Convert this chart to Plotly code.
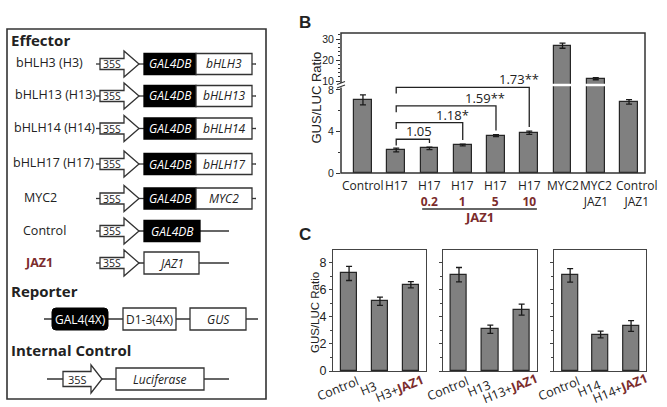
import plotly.graph_objects as go

W, H = 667, 407
RED = "#7b2c2c"
INK = "#222222"
EDGE = "#333333"
GREY = "#808080"

# ---------------- data: panel B ----------------
b_names = ["Control", "H17", "H17", "H17", "H17", "H17", "MYC2", "MYC2", "Control"]
b_second = ["", "", "0.2", "1", "5", "10", "", "JAZ1", "JAZ1"]
b_second_dose = [False, False, True, True, True, True, False, False, False]
b_values = [7.05, 2.22, 2.37, 2.70, 3.60, 3.88, 26.8, 11.1, 6.86]
b_errors = [0.48, 0.18, 0.12, 0.08, 0.10, 0.15, 1.2, 0.5, 0.22]
b_fold = ["1.05", "1.18*", "1.59**", "1.73**"]
b_fold_target = [2, 3, 4, 5]
b_fold_ref = 1
b_group_label = "JAZ1"

# ---------------- data: panel C ----------------
c_effectors = ["H3", "H13", "H14"]
c_values = [[7.20, 5.15, 6.37], [7.11, 3.08, 4.53], [7.06, 2.69, 3.32]]
c_errors = [[0.52, 0.30, 0.23], [0.53, 0.30, 0.40], [0.50, 0.25, 0.40]]


def px(x):
    return x / W


def py(y):
    return 1 - y / H


shapes = []
annotations = []


def add_line(x0, y0, x1, y1, color=EDGE, width=1.3):
    shapes.append(dict(type="line", xref="paper", yref="paper", x0=px(x0), y0=py(y0),
                       x1=px(x1), y1=py(y1), line=dict(color=color, width=width)))


def add_rect(x0, y0, x1, y1, fill="white", color=EDGE, width=1.3):
    shapes.append(dict(type="rect", xref="paper", yref="paper", x0=px(x0), y0=py(y1),
                       x1=px(x1), y1=py(y0), fillcolor=fill, line=dict(color=color, width=width)))


def add_poly(points, fill="white", color=EDGE, width=1.3):
    p = "M " + " L ".join(f"{px(a):.5f},{py(b):.5f}" for a, b in points) + " Z"
    shapes.append(dict(type="path", xref="paper", yref="paper", path=p, fillcolor=fill,
                       line=dict(color=color, width=width)))


def add_text(x, y, text, size=12.5, color=INK, xanchor="left", family="Open Sans", angle=0):
    annotations.append(dict(x=px(x), y=py(y), xref="paper", yref="paper", text=text,
                            showarrow=False, xanchor=xanchor, yanchor="middle",
                            textangle=angle, borderpad=0,
                            font=dict(family=family, size=size, color=color)))


def promoter(x0, y, body_w, head_w, bh, hh, fs=10.5):
    pts = [(x0, y - bh), (x0 + body_w, y - bh), (x0 + body_w, y - hh), (x0 + body_w + head_w, y),
           (x0 + body_w, y + hh), (x0 + body_w, y + bh), (x0, y + bh)]
    add_poly(pts)
    add_text(x0 + body_w / 2, y, "35S", size=fs, xanchor="center")
    return x0 + body_w + head_w


# ================= Panel A (schematic) =================
add_rect(7, 29, 266, 399, fill="rgba(0,0,0,0)", color=EDGE, width=1.6)
add_text(10, 40, "<b>Effector</b>", size=15)
add_text(10, 291, "<b>Reporter</b>", size=15)
add_text(10, 350, "<b>Internal Control</b>", size=15)

eff_labels = ["bHLH3 (H3)", "bHLH13 (H13)", "bHLH14 (H14)", "bHLH17 (H17)", "MYC2"]
eff_genes = ["bHLH3", "bHLH13", "bHLH14", "bHLH17", "MYC2"]
eff_label_x = [15, 14, 13, 12, 23]
row_y = [64, 96, 128.5, 164, 198.5, 231, 263]

for lab, gene, lx, y in zip(eff_labels, eff_genes, eff_label_x, row_y[:5]):
    add_text(lx, y - 1.5, lab)
    add_line(96, y, 100, y)
    tip = promoter(100, y, 24, 15, 5.5, 13)
    add_line(tip, y, 144, y)
    add_rect(144, y - 10.5, 196, y + 10.5, fill="black", color="black")
    add_text(170, y, "<i>GAL4DB</i>", size=12, color="white", xanchor="center")
    add_rect(196, y - 10.5, 252, y + 10.5)
    add_text(224, y, f"<i>{gene}</i>", size=12, xanchor="center")
    add_line(252, y, 256, y)

# Control row
y = row_y[5]
add_text(22, y - 1, "Control")
add_line(96, y, 100, y)
tip = promoter(100, y, 24, 15, 5.5, 13)
add_line(tip, y, 229, y)
add_rect(144, y - 10.5, 200, y + 10.5, fill="black", color="black")
add_text(172, y, "<i>GAL4DB</i>", size=12, color="white", xanchor="center")

# JAZ1 row
y = row_y[6]
add_text(24, y - 1, "<b>JAZ1</b>", color=RED)
add_line(96, y, 100, y)
tip = promoter(100, y, 24, 15, 5.5, 13)
add_line(tip, y, 229, y)
add_rect(144, y - 11, 199, y + 11)
add_text(171.5, y, "<i>JAZ1</i>", size=12, xanchor="center")

# Reporter row
y = 319
add_line(44, y, 258, y)
r = 4
x0, x1, y0, y1 = 52, 108, y - 11, y + 11
rp = (f"M {px(x0 + r)},{py(y0)} L {px(x1 - r)},{py(y0)} Q {px(x1)},{py(y0)} {px(x1)},{py(y0 + r)} "
      f"L {px(x1)},{py(y1 - r)} Q {px(x1)},{py(y1)} {px(x1 - r)},{py(y1)} "
      f"L {px(x0 + r)},{py(y1)} Q {px(x0)},{py(y1)} {px(x0)},{py(y1 - r)} "
      f"L {px(x0)},{py(y0 + r)} Q {px(x0)},{py(y0)} {px(x0 + r)},{py(y0)} Z")
shapes.append(dict(type="path", xref="paper", yref="paper", path=rp, fillcolor="black",
                   line=dict(color="black", width=1)))
add_text(80, y, "GAL4(4X)", size=12, color="white", xanchor="center")
add_rect(123, y - 11, 176, y + 11)
add_text(149.5, y, "D1-3(4X)", size=12, xanchor="center")
add_rect(190, y - 11, 246, y + 11)
add_text(218, y, "<i>GUS</i>", size=12, xanchor="center")

# Internal control row
y = 379
add_line(47, y, 229, y)
promoter(63, y, 28, 11, 7.5, 14, fs=11)
add_rect(116, y - 11, 204, y + 11)
add_text(160, y, "<i>Luciferase</i>", size=12, xanchor="center")

# ================= Panel B =================
fig = go.Figure()
LOW_TOP = 8.48
UP_RANGE = [8.1, 32.86]
bar_style = dict(marker=dict(color=GREY, line=dict(color="#262626", width=1.2)),
                 showlegend=False, hoverinfo="skip")
err_style = dict(type="data", color="#1a1a1a", thickness=1.3, width=3)

idx = list(range(len(b_values)))
fig.add_trace(go.Bar(x=idx, y=b_values, width=0.53, xaxis="x", yaxis="y",
                     error_y=dict(array=b_errors, **err_style), **bar_style))
hi = [i for i, v in enumerate(b_values) if v > LOW_TOP]
fig.add_trace(go.Bar(x=hi, y=[b_values[i] for i in hi], width=0.53, xaxis="x", yaxis="y2",
                     error_y=dict(array=[b_errors[i] for i in hi], **err_style), **bar_style))

# white break across tall bars
for i in hi:
    shapes.append(dict(type="line", xref="x", yref="paper", x0=i - 0.32, x1=i + 0.32,
                       y0=py(85), y1=py(85), line=dict(color="white", width=2.5), layer="above"))

# frame of B
add_rect(341, 33, 645, 173, fill="rgba(0,0,0,0)", color=EDGE, width=1.5)
add_line(341, 83, 341, 87.5, color="white", width=3)
add_line(337, 84.5, 345, 81.5, color=EDGE, width=1.1)
add_line(337, 88, 345, 85, color=EDGE, width=1.1)

# category labels of B (two lines, last one sits a little to the right as in the source)
b_label_shift = [0, 0, 0, 0, 0, 0, 0, 0, 8]
for i, (name, sec, dose, sh) in enumerate(zip(b_names, b_second, b_second_dose, b_label_shift)):
    if sec:
        sec_txt = f"<b><span style='color:{RED}'>{sec}</span></b>" if dose else sec
        txt = f"{name}<br>{sec_txt}"
    else:
        txt = name
    annotations.append(dict(x=i, y=py(176), xref="x", yref="paper", text=txt, showarrow=False,
                            xanchor="center", yanchor="top", xshift=sh, borderpad=0,
                            font=dict(family="Open Sans", size=12, color=INK)))

# fold-change brackets
levels = [3.25, 4.85, 6.46, 8.26]
for lab, t, lvl in zip(b_fold, b_fold_target, levels):
    end = b_values[t] + b_errors[t] + 0.4
    path = (f"M {b_fold_ref},{lvl - 0.6} L {b_fold_ref},{lvl} L {t},{lvl} L {t},{end}")
    shapes.append(dict(type="path", xref="x", yref="y", path=path,
                       line=dict(color=INK, width=1.3)))
    annotations.append(dict(x=t - 0.32, y=lvl, xref="x", yref="y", text=lab, showarrow=False,
                            xanchor="center", yanchor="middle", yshift=8,
                            font=dict(family="Open Sans", size=13, color=INK)))

# JAZ1 group bracket under the dose labels
doses = [i for i, d in enumerate(b_second_dose) if d]
shapes.append(dict(type="line", xref="x", yref="paper", x0=doses[0] - 0.22, x1=doses[-1] + 0.23,
                   y0=py(209), y1=py(209), line=dict(color=EDGE, width=1.3)))
annotations.append(dict(x=(doses[0] + doses[-1]) / 2, y=py(217), xref="x", yref="paper",
                        text=f"<b>{b_group_label}</b>", showarrow=False, xanchor="center",
                        yanchor="middle", font=dict(family="Open Sans", size=13, color=RED)))

add_text(305, 22, "<b>B</b>", size=17, family="Liberation Sans", xanchor="center")
add_text(315.5, 98, "GUS/LUC Ratio", size=13, family="Liberation Sans", xanchor="center", angle=-90)

# ================= Panel C =================
add_text(305, 235, "<b>C</b>", size=17, family="Liberation Sans", xanchor="center")
add_text(315, 313, "GUS/LUC Ratio", size=11.5, family="Liberation Sans", xanchor="center", angle=-90)

c_xdom = [(333, 426), (442.7, 537), (554.3, 646)]
C_TOP, C_BOT = 250, 371
layout_axes = {}
for k, (eff, vals, errs) in enumerate(zip(c_effectors, c_values, c_errors)):
    xa = f"x{k + 2}"
    ya = f"y{k + 3}"
    fig.add_trace(go.Bar(x=[0, 1, 2], y=vals, width=0.52, xaxis=xa, yaxis=ya,
                         error_y=dict(array=errs, **err_style), **bar_style))
    ticktext = ["Control", eff, f"{eff}+<b><span style='color:{RED}'>JAZ1</span></b>"]
    for i, t in enumerate(ticktext):
        annotations.append(dict(x=i, y=py(388), xref=xa, yref="paper", text=t,
                                showarrow=False, xanchor="center", yanchor="middle",
                                xshift=-11.5, textangle=-22, borderpad=0,
                                font=dict(family="Open Sans", size=12.5, color=INK)))
    layout_axes[f"xaxis{k + 2}"] = dict(
        domain=[px(c_xdom[k][0]), px(c_xdom[k][1])], range=[-0.52, 2.49], anchor=ya,
        tickmode="array", tickvals=[0, 1, 2], showticklabels=False, ticks="",
        showline=True, mirror=True, linecolor="#444", linewidth=1.1, showgrid=False,
        zeroline=False, automargin=False)
    layout_axes[f"yaxis{k + 3}"] = dict(
        domain=[py(C_BOT), py(C_TOP)], range=[0, 8.93], anchor=xa,
        tickmode="array", tickvals=[0, 2, 4, 6, 8], ticks="outside", ticklen=3,
        tickwidth=1, tickcolor="#444", showticklabels=(k == 0),
        minor=dict(tickmode="array", tickvals=[1, 3, 5, 7], ticks="outside", ticklen=2,
                   tickcolor="#444"),
        showline=True, mirror=True, linecolor="#444", linewidth=1.1, showgrid=False,
        zeroline=False, automargin=False,
        tickfont=dict(family="Liberation Sans", size=12.5, color=INK))

fig.update_layout(
    template="none",
    width=W, height=H, margin=dict(l=0, r=0, t=0, b=0, pad=0), autosize=False,
    paper_bgcolor="white", plot_bgcolor="rgba(0,0,0,0)", showlegend=False,
    font=dict(family="Open Sans", color=INK),
    bargap=0,
    xaxis=dict(domain=[px(341), px(645)], range=[-0.66, 8.48], anchor="y",
               tickmode="array", tickvals=idx, showticklabels=False, ticks="",
               showline=False, showgrid=False, zeroline=False, automargin=False),
    yaxis=dict(domain=[py(173), py(85)], range=[0, LOW_TOP], anchor="x",
               tickmode="array", tickvals=[0, 4, 8], ticks="outside", ticklen=4,
               tickwidth=1.1, tickcolor=EDGE,
               minor=dict(tickmode="array", tickvals=[2, 6], ticks="outside", ticklen=2,
                          tickcolor=EDGE),
               showgrid=False, zeroline=False, showline=False, automargin=False,
               tickfont=dict(family="Liberation Sans", size=10.5, color=INK)),
    yaxis2=dict(domain=[py(85), py(33)], range=UP_RANGE, anchor="x",
                tickmode="array", tickvals=[10, 20, 30], ticks="outside", ticklen=4,
                tickwidth=1.1, tickcolor=EDGE,
                minor=dict(tickmode="array", tickvals=[12, 14, 16, 18, 22, 24, 26, 28, 32],
                           ticks="outside", ticklen=2, tickcolor=EDGE),
                showgrid=False, zeroline=False, showline=False, automargin=False,
                tickfont=dict(family="Liberation Sans", size=10.5, color=INK)),
    shapes=shapes,
    annotations=annotations,
    **layout_axes,
)

fig.write_html("out.html")
